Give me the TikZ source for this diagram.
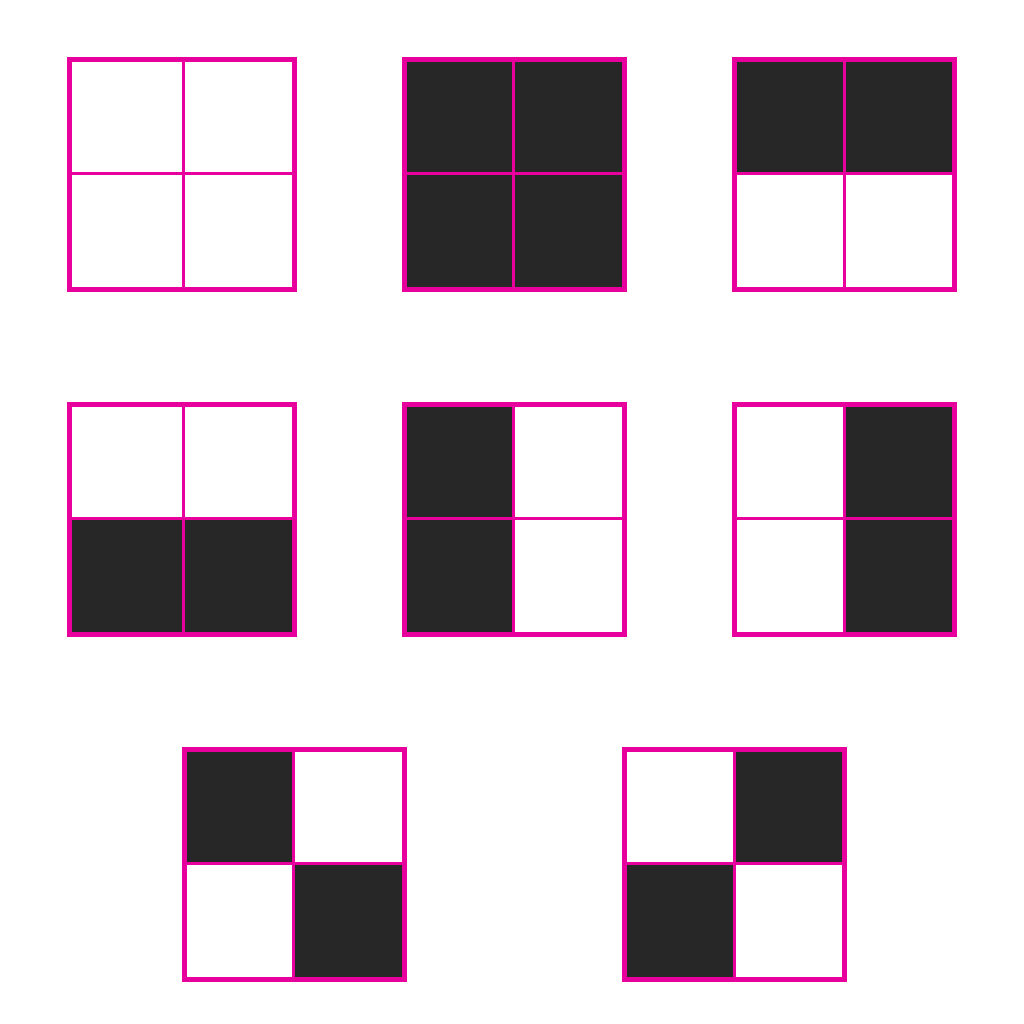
\documentclass[tikz,border=0pt]{standalone}
\definecolor{pinkc}{HTML}{E8009C}
\definecolor{darkc}{HTML}{272727}
\newcommand\gframe[6]{% x0 x1 y0 y1 xm ym
  \draw[innerline] (#5,#3) -- (#5,#4);
  \draw[innerline] (#1,#6) -- (#2,#6);
  \draw[outerline] ({#1+2.5},{#3+2.5}) rectangle ({#2-2.5},{#4-2.5});}
\newcommand\gcell[4]{\fill[cellfill] (#1,#2) rectangle (#3,#4);}
\begin{document}
\begin{tikzpicture}[x=1pt,y=-1pt,
  outerline/.style={draw=pinkc,line width=5pt},
  innerline/.style={draw=pinkc,line width=3pt},
  cellfill/.style={fill=darkc}]
\useasboundingbox[fill=white] (0,0) rectangle (1024,1024);
% row 1
\gframe{67}{297}{57}{292}{183.5}{173.5}
\gcell{402}{57}{627}{292}
\gframe{402}{627}{57}{292}{513.5}{173.5}
\gcell{732}{57}{957}{173.5}
\gframe{732}{957}{57}{292}{844}{173.5}
% row 2
\gcell{67}{518.5}{297}{637}
\gframe{67}{297}{402}{637}{183.5}{518.5}
\gcell{402}{402}{513.5}{637}
\gframe{402}{627}{402}{637}{513.5}{518.5}
\gcell{844}{402}{957}{637}
\gframe{732}{957}{402}{637}{844}{518.5}
% row 3
\gcell{182}{747}{293.5}{863.5}
\gcell{293.5}{863.5}{407}{982}
\gframe{182}{407}{747}{982}{293.5}{863.5}
\gcell{734}{747}{847}{863.5}
\gcell{622}{863.5}{734}{982}
\gframe{622}{847}{747}{982}{734}{863.5}
\end{tikzpicture}
\end{document}
